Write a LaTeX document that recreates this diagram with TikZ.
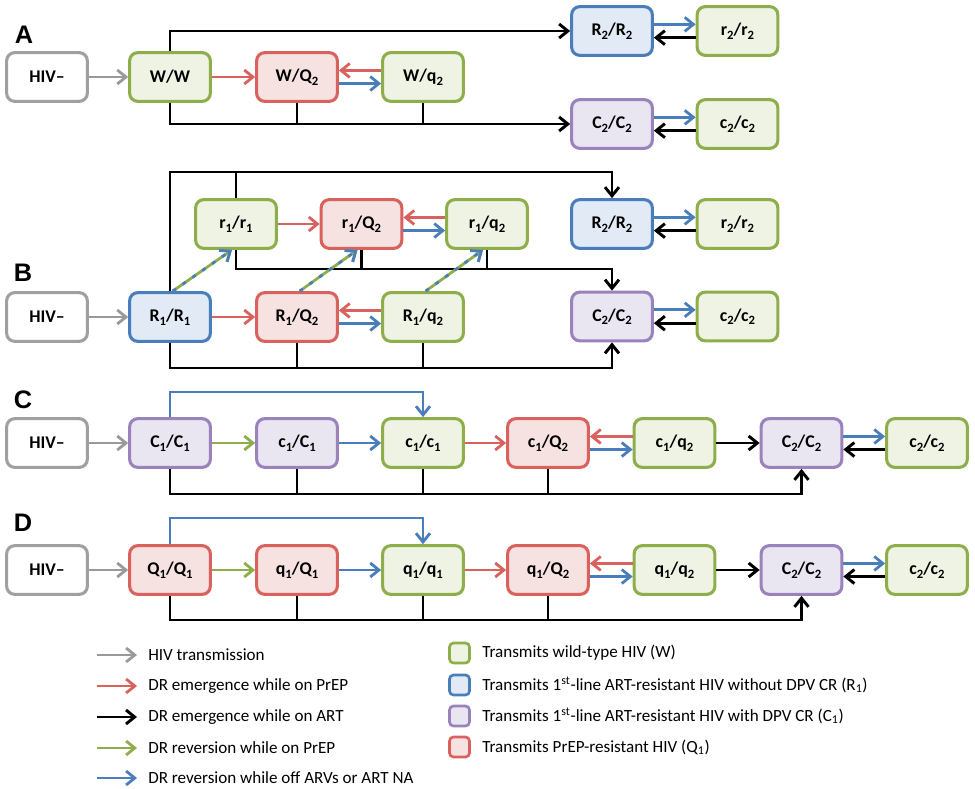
\documentclass[tikz,border=0pt]{standalone}
\usepackage{fontspec}
\setmainfont{Carlito}
\usetikzlibrary{arrows.meta,calc}
\definecolor{gbd}{HTML}{8EAD4B}
\definecolor{gfl}{HTML}{EFF3E4}
\definecolor{bbd}{HTML}{4A7EBB}
\definecolor{bfl}{HTML}{E2EBF5}
\definecolor{pbd}{HTML}{9A82BC}
\definecolor{pfl}{HTML}{EAE6F1}
\definecolor{rbd}{HTML}{D9625E}
\definecolor{rfl}{HTML}{F7E2E2}
\definecolor{gry}{HTML}{999999}
\definecolor{grybd}{HTML}{A0A0A0}
\newcommand\sbs[1]{\raisebox{-0.4ex}{\fontsize{9.5}{9.5}\selectfont #1}}
\tikzset{
  box/.style={rounded corners=6pt, minimum width=60.5pt, minimum height=36.5pt,
    line width=2.3pt, font=\bfseries\fontsize{13.4}{14}\selectfont, inner sep=0pt},
  gbox/.style={box,draw=gbd,fill=gfl},
  bbox/.style={box,draw=bbd,fill=bfl},
  pbox/.style={box,draw=pbd,fill=pfl},
  rbox/.style={box,draw=rbd,fill=rfl},
  hbox/.style={box,draw=grybd,fill=white},
  tipd/.tip={Straight Barb[length=6.5pt,width=10.5pt]},
  arr/.style={line width=2.1pt,-tipd},
  garr/.style={arr,gry},
  rarr/.style={arr,rbd},
  barr/.style={arr,bbd},
  varr/.style={arr,gbd},
  karr/.style={line width=2.2pt,black,-tipd},
  conn/.style={line width=2.2pt,black},
  plabel/.style={font=\sffamily\bfseries\fontsize{19}{19}\selectfont},
  legtxt/.style={anchor=west,font=\fontsize{12.8}{14}\selectfont,inner sep=0pt},
  legsq/.style={rounded corners=3pt,minimum width=15pt,minimum height=15pt,line width=2pt,inner sep=0pt},
  dashb/.style={line width=2.1pt,bbd,dash pattern=on 3pt off 6pt,-tipd},
  dashg/.style={line width=2.1pt,gbd,-tipd},
}
\setsansfont{Liberation Sans}
\begin{document}
\begin{tikzpicture}[x=0.75pt,y=-0.75pt]
\useasboundingbox (0,0) rectangle (975,789);
% ---------- Panel A ----------
\node[plabel] (lA) at (24,35) {A};
\node[hbox] (hA) at (47,77) {HIV–};
\node[gbox] (wwA) at (170,77) {W/W};
\node[rbox] (wQA) at (297,77) {W/Q\sbs{2}};
\node[gbox] (wqA) at (423,77) {W/q\sbs{2}};
\node[bbox] (R2A) at (612,31) {R\sbs{2}/R\sbs{2}};
\node[gbox] (r2A) at (737.5,31) {r\sbs{2}/r\sbs{2}};
\node[pbox] (C2A) at (612,124) {C\sbs{2}/C\sbs{2}};
\node[gbox] (c2A) at (737.5,124) {c\sbs{2}/c\sbs{2}};
\draw[garr] (hA) -- (wwA);
\draw[rarr] (wwA) -- (wQA);
\draw[rarr] ([yshift=4.9pt]wqA.west) -- ([yshift=4.9pt]wQA.east);
\draw[barr] ([yshift=-4.9pt]wQA.east) -- ([yshift=-4.9pt]wqA.west);
\draw[karr] (wwA.north) |- (R2A.west);
\draw[karr] (wwA.south) |- (C2A.west);
\draw[conn] (wQA.south) -- (wQA.south |- C2A.west);
\draw[conn] (wqA.south) -- (wqA.south |- C2A.west);
\draw[barr] ([yshift=5pt]R2A.east) -- ([yshift=5pt]r2A.west);
\draw[karr] ([yshift=-5pt]r2A.west) -- ([yshift=-5pt]R2A.east);
\draw[barr] ([yshift=5pt]C2A.east) -- ([yshift=5pt]c2A.west);
\draw[karr] ([yshift=-5pt]c2A.west) -- ([yshift=-5pt]C2A.east);
% ---------- Panel B ----------
\node[plabel] (lB) at (23,273) {B};
\node[hbox] (hB) at (47,317) {HIV–};
\node[bbox] (R1B) at (170,317) {R\sbs{1}/R\sbs{1}};
\node[rbox] (RQB) at (297,317) {R\sbs{1}/Q\sbs{2}};
\node[gbox] (RqB) at (423,317) {R\sbs{1}/q\sbs{2}};
\node[gbox] (r1B) at (236,224) {r\sbs{1}/r\sbs{1}};
\node[rbox] (r1QB) at (361.5,224) {r\sbs{1}/Q\sbs{2}};
\node[gbox] (r1qB) at (487,224) {r\sbs{1}/q\sbs{2}};
\node[bbox] (R2B) at (612,224) {R\sbs{2}/R\sbs{2}};
\node[gbox] (r2B) at (737.5,224) {r\sbs{2}/r\sbs{2}};
\node[pbox] (C2B) at (612,316.5) {C\sbs{2}/C\sbs{2}};
\node[gbox] (c2B) at (737.5,316.5) {c\sbs{2}/c\sbs{2}};
\coordinate (btop) at (0,172);
\coordinate (bmid) at (0,269);
\coordinate (bbot) at (0,368);
\draw[garr] (hB) -- (R1B);
\draw[rarr] (R1B) -- (RQB);
\draw[rarr] ([yshift=4.9pt]RqB.west) -- ([yshift=4.9pt]RQB.east);
\draw[barr] ([yshift=-4.9pt]RQB.east) -- ([yshift=-4.9pt]RqB.west);
\draw[rarr] (r1B) -- (r1QB);
\draw[rarr] ([yshift=4.9pt]r1qB.west) -- ([yshift=4.9pt]r1QB.east);
\draw[barr] ([yshift=-4.9pt]r1QB.east) -- ([yshift=-4.9pt]r1qB.west);
\draw[karr] (R1B.north) -- (R1B.north |- btop) -| (R2B.north);
\draw[conn] (r1B.north) -- (r1B.north |- btop);
\draw[karr] (r1B.south) -- (r1B.south |- bmid) -| (C2B.north);
\draw[conn] (r1QB.south) -- (r1QB.south |- bmid);
\draw[conn] (r1qB.south) -- (r1qB.south |- bmid);
\draw[karr] (R1B.south) -- (R1B.south |- bbot) -| (C2B.south);
\draw[conn] (RQB.south) -- (RQB.south |- bbot);
\draw[conn] (RqB.south) -- (RqB.south |- bbot);
\foreach \a/\b in {R1B/r1B,RQB/r1QB,RqB/r1qB}{
  \draw[dashg] ([xshift=2pt]\a.north) -- ([xshift=-3pt]\b.south);
  \draw[dashb] ([xshift=2pt]\a.north) -- ([xshift=-3pt]\b.south);
}
\draw[barr] ([yshift=5pt]R2B.east) -- ([yshift=5pt]r2B.west);
\draw[karr] ([yshift=-5pt]r2B.west) -- ([yshift=-5pt]R2B.east);
\draw[barr] ([yshift=5pt]C2B.east) -- ([yshift=5pt]c2B.west);
\draw[karr] ([yshift=-5pt]c2B.west) -- ([yshift=-5pt]C2B.east);
% ---------- Panel C ----------
\node[plabel] (lC) at (23,400) {C};
\node[hbox] (hC) at (47,443) {HIV–};
\node[pbox] (C1C) at (170,443) {C\sbs{1}/C\sbs{1}};
\node[pbox] (cCC) at (297,443) {c\sbs{1}/C\sbs{1}};
\node[gbox] (ccC) at (423,443) {c\sbs{1}/c\sbs{1}};
\node[rbox] (cQC) at (548,443) {c\sbs{1}/Q\sbs{2}};
\node[gbox] (cqC) at (674.5,443) {c\sbs{1}/q\sbs{2}};
\node[pbox] (C2C) at (801.5,443) {C\sbs{2}/C\sbs{2}};
\node[gbox] (c2C) at (927,443) {c\sbs{2}/c\sbs{2}};
\coordinate (ctop) at (0,392);
\coordinate (cbot) at (0,494);
\draw[garr] (hC) -- (C1C);
\draw[varr] (C1C) -- (cCC);
\draw[barr] (cCC) -- (ccC);
\draw[rarr] (ccC) -- (cQC);
\draw[rarr] ([yshift=4.9pt]cqC.west) -- ([yshift=4.9pt]cQC.east);
\draw[barr] ([yshift=-4.9pt]cQC.east) -- ([yshift=-4.9pt]cqC.west);
\draw[karr] (cqC) -- (C2C);
\draw[barr] ([yshift=4.9pt]C2C.east) -- ([yshift=4.9pt]c2C.west);
\draw[karr] ([yshift=-4.9pt]c2C.west) -- ([yshift=-4.9pt]C2C.east);
\draw[barr] (C1C.north) -- (C1C.north |- ctop) -| (ccC.north);
\draw[karr] (C1C.south) -- (C1C.south |- cbot) -| (C2C.south);
\draw[conn] (cCC.south) -- (cCC.south |- cbot);
\draw[conn] (ccC.south) -- (ccC.south |- cbot);
\draw[conn] (cQC.south) -- (cQC.south |- cbot);
% ---------- Panel D ----------
\node[plabel] (lD) at (23,523) {D};
\node[hbox] (hD) at (47,570) {HIV–};
\node[rbox] (Q1D) at (170,570) {Q\sbs{1}/Q\sbs{1}};
\node[rbox] (qQD) at (297,570) {q\sbs{1}/Q\sbs{1}};
\node[gbox] (qqD) at (423,570) {q\sbs{1}/q\sbs{1}};
\node[rbox] (qQ2D) at (548,570) {q\sbs{1}/Q\sbs{2}};
\node[gbox] (qq2D) at (674.5,570) {q\sbs{1}/q\sbs{2}};
\node[pbox] (C2D) at (801.5,570) {C\sbs{2}/C\sbs{2}};
\node[gbox] (c2D) at (927,570) {c\sbs{2}/c\sbs{2}};
\coordinate (dtop) at (0,518);
\coordinate (dbot) at (0,620);
\draw[garr] (hD) -- (Q1D);
\draw[varr] (Q1D) -- (qQD);
\draw[barr] (qQD) -- (qqD);
\draw[rarr] (qqD) -- (qQ2D);
\draw[rarr] ([yshift=4.9pt]qq2D.west) -- ([yshift=4.9pt]qQ2D.east);
\draw[barr] ([yshift=-4.9pt]qQ2D.east) -- ([yshift=-4.9pt]qq2D.west);
\draw[karr] (qq2D) -- (C2D);
\draw[barr] ([yshift=4.9pt]C2D.east) -- ([yshift=4.9pt]c2D.west);
\draw[karr] ([yshift=-4.9pt]c2D.west) -- ([yshift=-4.9pt]C2D.east);
\draw[barr] (Q1D.north) -- (Q1D.north |- dtop) -| (qqD.north);
\draw[karr] (Q1D.south) -- (Q1D.south |- dbot) -| (C2D.south);
\draw[conn] (qQD.south) -- (qQD.south |- dbot);
\draw[conn] (qqD.south) -- (qqD.south |- dbot);
\draw[conn] (qQ2D.south) -- (qQ2D.south |- dbot);
% ---------- Legend ----------
\foreach \i/\y/\s/\t in {1/655/garr/HIV transmission,
                          2/686/rarr/DR emergence while on PrEP,
                          3/717/karr/DR emergence while on ART,
                          4/748/varr/DR reversion while on PrEP,
                          5/778/barr/DR reversion while off ARVs or ART NA}{
  \coordinate (la\i) at (97,\y);
  \coordinate (lb\i) at (137,\y);
  \draw[\s] (la\i) -- (lb\i);
  \node[legtxt] (lt\i) at (148,\y) {\t};
}
\node[legsq,draw=gbd,fill=gfl] (sq1) at (459.5,653) {};
\node[legsq,draw=bbd,fill=bfl] (sq2) at (459.5,685) {};
\node[legsq,draw=pbd,fill=pfl] (sq3) at (459.5,716) {};
\node[legsq,draw=rbd,fill=rfl] (sq4) at (459.5,747) {};
\node[legtxt] (st1) at (482,653) {Transmits wild-type HIV (W)};
\node[legtxt] (st2) at (482,685) {Transmits 1\textsuperscript{st}-line ART-resistant HIV without DPV CR (R\textsubscript{1})};
\node[legtxt] (st3) at (482,716) {Transmits 1\textsuperscript{st}-line ART-resistant HIV with DPV CR (C\textsubscript{1})};
\node[legtxt] (st4) at (482,747) {Transmits PrEP-resistant HIV (Q\textsubscript{1})};
\end{tikzpicture}
\end{document}
